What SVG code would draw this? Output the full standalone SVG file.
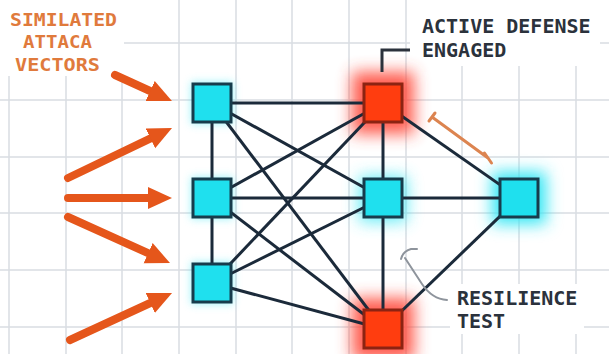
<svg xmlns="http://www.w3.org/2000/svg" width="609" height="354" viewBox="0 0 609 354">
<style>
.grid line{stroke:#d8dce2;stroke-width:1.5}
.edge{stroke:#1b2a3a;stroke-width:3;fill:none}
.cy{fill:#1fe0ee;stroke:#173c4c;stroke-width:3}
.rd{fill:#ff3d0f;stroke:#8c2312;stroke-width:3}
.atk{stroke:#e5561b;stroke-width:8;stroke-linecap:round;fill:none;marker-end:url(#ah)}
.lbl{font-family:"DejaVu Sans Mono","Liberation Mono",monospace;font-size:20px;font-weight:bold}
.olbl{font-family:"DejaVu Sans Mono","Liberation Mono",monospace;font-size:18px;font-weight:bold}
.dark{fill:#2b323c}
.orange{fill:#e07a3c;stroke:#fff;stroke-width:2.5;paint-order:stroke}
.lead{stroke:#2b323c;stroke-width:3;fill:none}
</style>
<defs>
<marker id="ah" markerUnits="userSpaceOnUse" markerWidth="26" markerHeight="24" refX="6" refY="11" orient="auto">
<path d="M0,0 L24,11 L0,22 z" fill="#e5561b"/>
</marker>
<filter id="gc" x="-100%" y="-100%" width="300%" height="300%"><feGaussianBlur stdDeviation="8"/></filter>
<filter id="gs" x="-100%" y="-100%" width="300%" height="300%"><feGaussianBlur stdDeviation="4"/></filter>
</defs>
<rect width="609" height="354" fill="#fff"/>
<g class="grid">
<line x1="9" y1="0" x2="9" y2="354"/><line x1="66" y1="0" x2="66" y2="354"/><line x1="122" y1="0" x2="122" y2="354"/><line x1="179" y1="0" x2="179" y2="354"/><line x1="236" y1="0" x2="236" y2="354"/><line x1="292" y1="0" x2="292" y2="354"/><line x1="349" y1="0" x2="349" y2="354"/><line x1="406" y1="0" x2="406" y2="354"/><line x1="462" y1="0" x2="462" y2="354"/><line x1="519" y1="0" x2="519" y2="354"/><line x1="576" y1="0" x2="576" y2="354"/>
<line x1="0" y1="43" x2="609" y2="43"/><line x1="0" y1="100" x2="609" y2="100"/><line x1="0" y1="157" x2="609" y2="157"/><line x1="0" y1="213" x2="609" y2="213"/><line x1="0" y1="270" x2="609" y2="270"/><line x1="0" y1="327" x2="609" y2="327"/>
</g>
<g id="bg-labels" fill="#fff">
<rect x="0" y="0" width="124" height="76"/>
<rect x="410" y="0" width="190" height="66"/>
<rect x="450" y="284" width="134" height="50"/>
</g>
<g id="glows">
<rect x="191" y="82" width="42" height="42" fill="#40e8f4" filter="url(#gs)" opacity="0.5"/>
<rect x="191" y="177" width="42" height="42" fill="#40e8f4" filter="url(#gs)" opacity="0.5"/>
<rect x="191" y="262" width="42" height="42" fill="#40e8f4" filter="url(#gs)" opacity="0.5"/>
<rect x="359" y="176" width="48" height="46" fill="#40e8f4" filter="url(#gc)" opacity="0.8"/>
<rect x="492" y="172" width="54" height="52" fill="#30e6f4" filter="url(#gc)"/>
<rect x="352" y="72" width="62" height="62" fill="#ff4a3a" filter="url(#gc)" opacity="0.9"/>
<rect x="352" y="298" width="62" height="62" fill="#ff4a3a" filter="url(#gc)" opacity="0.9"/>
</g>
<g id="connectors">
<line class="edge" x1="212" y1="103" x2="383" y2="103"/>
<line class="edge" x1="212" y1="103" x2="212" y2="283"/>
<line class="edge" x1="212" y1="103" x2="383" y2="198"/>
<line class="edge" x1="212" y1="103" x2="383" y2="329"/>
<line class="edge" x1="212" y1="198" x2="383" y2="103"/>
<line class="edge" x1="212" y1="198" x2="383" y2="198"/>
<line class="edge" x1="212" y1="198" x2="383" y2="329"/>
<line class="edge" x1="212" y1="283" x2="383" y2="103"/>
<line class="edge" x1="212" y1="283" x2="383" y2="198"/>
<line class="edge" x1="212" y1="283" x2="383" y2="329"/>
<line class="edge" x1="383" y1="103" x2="383" y2="329"/>
<line class="edge" x1="383" y1="198" x2="519" y2="198"/>
<line class="edge" x1="383" y1="103" x2="519" y2="198"/>
<line class="edge" x1="383" y1="329" x2="519" y2="198"/>
<path class="atk" d="M115,75 L155.6,93.5"/>
<path class="atk" d="M68,178 L155.8,135.8"/>
<path class="atk" d="M68,198 L154,198"/>
<path class="atk" d="M68,217 L153.6,255.6"/>
<path class="atk" d="M70,340 L155.7,300.5"/>
<path d="M432,117 L488,158 M484.5,153 L491.5,163 M429,121 L435,113" stroke="#dc8450" stroke-width="3" stroke-linecap="round" fill="none"/>
<path class="lead" d="M382,72 L382,50 L410,50"/>
<path d="M447,300 Q432,299 422,284 L405,258 M401,259 Q403,251 411,249 L417,249" stroke="#8e949c" stroke-width="2" fill="none" stroke-linecap="round"/>
</g>
<g id="n-lt"><rect class="cy" x="193" y="84" width="38" height="38"/></g>
<g id="n-lm"><rect class="cy" x="193" y="179" width="38" height="38"/></g>
<g id="n-lb"><rect class="cy" x="193" y="264" width="38" height="38"/></g>
<g id="n-mt"><rect class="rd" x="364" y="84" width="38" height="38"/></g>
<g id="n-mm"><rect class="cy" x="364" y="179" width="38" height="38"/></g>
<g id="n-mb"><rect class="rd" x="364" y="310" width="38" height="38"/></g>
<g id="n-r"><rect class="cy" x="500" y="179" width="38" height="38"/></g>
<g id="labels">
<text class="olbl orange" x="10" y="26" textLength="107" lengthAdjust="spacingAndGlyphs">SIMILATED</text>
<text class="olbl orange" x="23" y="48" textLength="69" lengthAdjust="spacingAndGlyphs">ATTACA</text>
<text class="olbl orange" x="15" y="71" textLength="85" lengthAdjust="spacingAndGlyphs">VECTORS</text>
<text class="lbl dark" x="422" y="33">ACTIVE DEFENSE</text>
<text class="lbl dark" x="422" y="57">ENGAGED</text>
<text class="lbl dark" x="457" y="305">RESILIENCE</text>
<text class="lbl dark" x="457" y="328">TEST</text>
</g>
</svg>
